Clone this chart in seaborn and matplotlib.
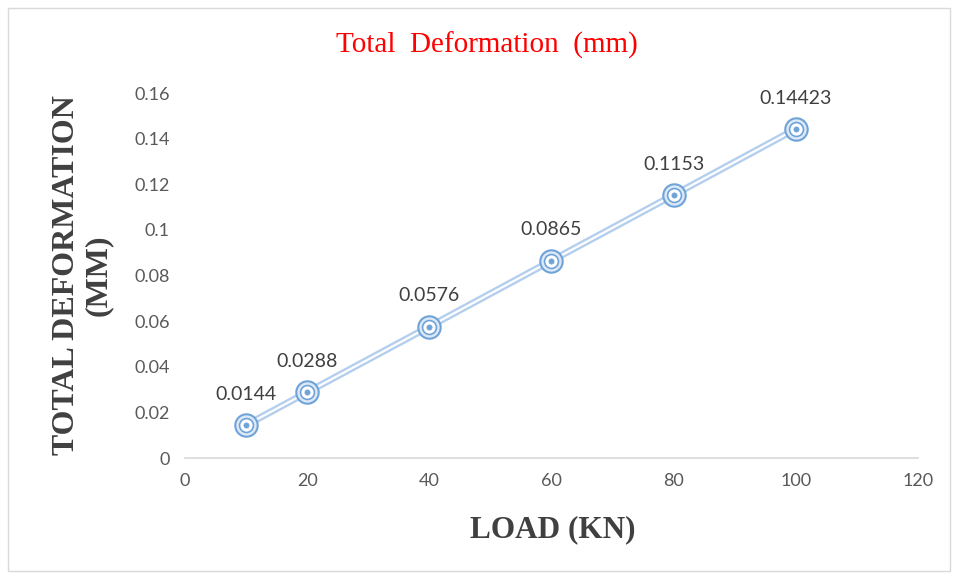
import numpy as np
import pandas as pd
import matplotlib
matplotlib.use('Agg')
import matplotlib.pyplot as plt
import seaborn as sns
from matplotlib.patches import Rectangle

# data
load_kn = [10, 20, 40, 60, 80, 100]
deformation = [0.0144, 0.0288, 0.0576, 0.0865, 0.1153, 0.14423]
point_labels = ['0.0144', '0.0288', '0.0576', '0.0865', '0.1153', '0.14423']
x_ticks = [0, 20, 40, 60, 80, 100, 120]
y_ticks = [0, 0.02, 0.04, 0.06, 0.08, 0.1, 0.12, 0.14, 0.16]
y_tick_labels = ['0', '0.02', '0.04', '0.06', '0.08', '0.1', '0.12', '0.14', '0.16']

df = pd.DataFrame({'load': load_kn, 'deformation': deformation})

sns.set_theme(style='white')
plt.rcParams['font.family'] = ['Lato', 'DejaVu Sans']

blue = '#6fa3d8'
light_blue = '#b4cfee'

fig = plt.figure(figsize=(9.56, 5.78), dpi=100)
ax = fig.add_axes([0.1935, 0.2076, 0.7667, 0.6315])

# double line look: light blue band with a white core
sns.lineplot(data=df, x='load', y='deformation', ax=ax, color=light_blue,
             linewidth=5, zorder=2)
sns.lineplot(data=df, x='load', y='deformation', ax=ax, color='white',
             linewidth=1.6, zorder=3)
# ringed markers
sns.scatterplot(data=df, x='load', y='deformation', ax=ax, s=260,
                facecolor='#dde9f7', edgecolor=blue, linewidth=1.5, zorder=4)
sns.scatterplot(data=df, x='load', y='deformation', ax=ax, s=100,
                facecolor='white', edgecolor=blue, linewidth=1.2, zorder=5)
sns.scatterplot(data=df, x='load', y='deformation', ax=ax, s=14,
                color=blue, edgecolor=blue, linewidth=0.5, zorder=6)

for x, y, lab in zip(load_kn, deformation, point_labels):
    ax.annotate(lab, (x, y), xytext=(0, 16), textcoords='offset points',
                ha='center', va='bottom', fontsize=14, color='#404040')

ax.set_xlim(0, 120)
ax.set_ylim(0, 0.16)
ax.set_xticks(x_ticks)
ax.set_yticks(y_ticks)
ax.set_yticklabels(y_tick_labels)
ax.tick_params(axis='both', labelsize=13, colors='#595959', length=0, pad=11)
for side in ['top', 'right', 'left']:
    ax.spines[side].set_visible(False)
ax.spines['bottom'].set_color('#d9d9d9')
ax.spines['bottom'].set_linewidth(1.2)

ax.set_xlabel('LOAD (KN)', fontsize=22.5, fontweight='bold', color='#404040',
              family='Liberation Serif')
ax.xaxis.set_label_coords(0.502, -0.158)
ax.set_ylabel('TOTAL DEFORMATION\n(MM)', fontsize=23, fontweight='bold',
              color='#404040', family='Liberation Serif', linespacing=1.15)
ax.yaxis.set_label_coords(-0.098, 0.5)

fig.text(0.509, 0.922, 'Total  Deformation  (mm)', ha='center', va='center',
         fontsize=21, color='red', family='Liberation Serif')

# thin frame around the whole chart area
fig.patches.append(Rectangle((0.008, 0.012), 0.986, 0.975, transform=fig.transFigure,
                             fill=False, edgecolor='#d9d9d9', linewidth=1))

fig.savefig('out.png', dpi=100)
